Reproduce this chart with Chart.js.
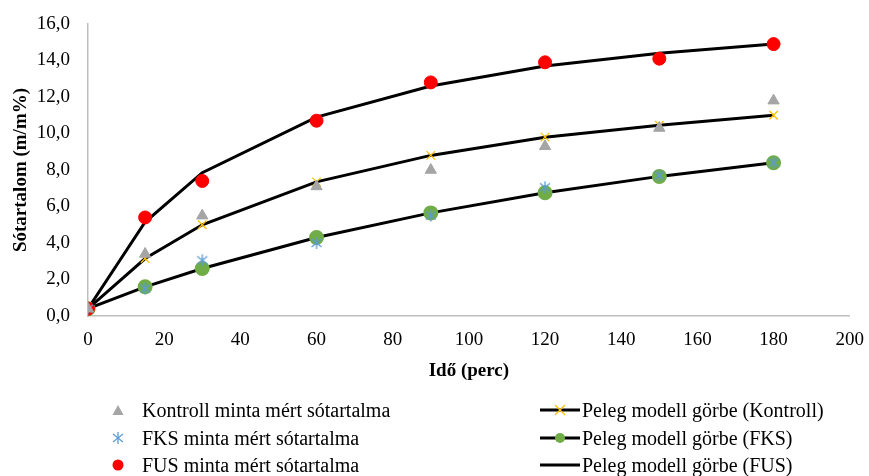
<!DOCTYPE html>
<html>
<head>
<meta charset="utf-8">
<script src="https://cdn.jsdelivr.net/npm/chart.js@4/dist/chart.umd.min.js"></script>
<style>
  body { margin: 0; background: #fff; }
  #wrap { position: relative; width: 869px; height: 476px; }
  #legend { position: absolute; left: 0; top: 0; width: 869px; height: 476px; pointer-events: none;
    font-family: "Liberation Serif", "Times New Roman", serif; font-size: 20px; color: #000; }
  .item { position: absolute; display: flex; align-items: center; white-space: nowrap; height: 24px; }
</style>
</head>
<body>
<div id="wrap">
  <canvas id="c" width="869" height="476"></canvas>
  <div id="legend"></div>
</div>
<script>
const times = [0, 15, 30, 60, 90, 120, 150, 180];
const kontrollMert = [0.4, 3.4, 5.5, 7.1, 8.0, 9.3, 10.3, 11.8];
const fksMert = [0.4, 1.5, 3.05, 4.0, 5.5, 7.05, 7.7, 8.4];
const fusMert = [0.4, 5.4, 7.4, 10.7, 12.8, 13.9, 14.1, 14.9];
const kontrollModell = [0.4, 3.15, 5.0, 7.35, 8.8, 9.8, 10.45, 11.0];
const fksModell = [0.4, 1.6, 2.6, 4.3, 5.65, 6.75, 7.65, 8.4];
const fusModell = [0.4, 5.15, 7.85, 10.9, 12.6, 13.7, 14.4, 14.9];
const xTicks = [0, 20, 40, 60, 80, 100, 120, 140, 160, 180, 200];
const yTicks = [0, 2, 4, 6, 8, 10, 12, 14, 16];

const labels = [
  'Kontroll minta mért sótartalma', 'FKS minta mért sótartalma', 'FUS minta mért sótartalma',
  'Peleg modell görbe (Kontroll)', 'Peleg modell görbe (FKS)', 'Peleg modell görbe (FUS)'
];

function pts(arr) { return times.map((t, i) => ({ x: t, y: arr[i] })); }

// asterisk marker (vertical line + X), like the Excel one
function asterisk(color) {
  const c = document.createElement('canvas');
  c.width = 14; c.height = 14;
  const g = c.getContext('2d');
  g.strokeStyle = color; g.lineWidth = 1.3;
  g.beginPath();
  g.moveTo(7, 1); g.lineTo(7, 13);
  g.moveTo(2, 3); g.lineTo(12, 11);
  g.moveTo(12, 3); g.lineTo(2, 11);
  g.stroke();
  return c;
}

const font = { family: '"Liberation Serif", "Times New Roman", serif', size: 19 };
const boldFont = { family: '"Liberation Serif", "Times New Roman", serif', size: 19, weight: 'bold' };

new Chart(document.getElementById('c'), {
  type: 'scatter',
  data: {
    datasets: [
      { label: labels[0], data: pts(kontrollMert), pointStyle: 'triangle', pointRadius: 6.5,
        backgroundColor: '#a5a5a5', borderColor: '#a5a5a5', showLine: false },
      { label: labels[1], data: pts(fksMert), pointStyle: asterisk('#5b9bd5'), pointRadius: 7,
        backgroundColor: '#5b9bd5', borderColor: '#5b9bd5', showLine: false },
      { label: labels[2], data: pts(fusMert), pointStyle: 'circle', pointRadius: 6.5,
        backgroundColor: '#ff0000', borderColor: '#ff0000', showLine: false },
      { label: labels[3], data: pts(kontrollModell), showLine: true, borderColor: '#000', borderWidth: 3,
        pointStyle: 'crossRot', pointRadius: 6, pointBorderColor: '#ffc000', pointBorderWidth: 1.3,
        pointBackgroundColor: '#ffc000', tension: 0 },
      { label: labels[4], data: pts(fksModell), showLine: true, borderColor: '#000', borderWidth: 3,
        pointStyle: 'circle', pointRadius: 6, pointBackgroundColor: '#70ad47', pointBorderColor: '#70ad47',
        tension: 0 },
      { label: labels[5], data: pts(fusModell), showLine: true, borderColor: '#000', borderWidth: 3,
        pointRadius: 0, tension: 0 }
    ]
  },
  options: {
    responsive: false,
    animation: false,
    layout: { padding: { left: 0, top: 24, right: 0, bottom: 90 } },
    plugins: { legend: { display: false }, tooltip: { enabled: false } },
    scales: {
      x: {
        type: 'linear', min: 0, max: 200,
        afterBuildTicks: s => { s.ticks = xTicks.map(v => ({ value: v })); },
        grid: { display: false },
        border: { display: true, color: '#bfbfbf', width: 1.5 },
        ticks: { font: font, color: '#000', padding: 5, maxRotation: 0 },
        title: { display: true, text: 'Idő (perc)', font: boldFont, color: '#000', padding: { top: 4, bottom: 4 } },
        afterFit: s => { s.height = 70; }
      },
      y: {
        type: 'linear', min: 0, max: 16,
        afterBuildTicks: s => { s.ticks = yTicks.map(v => ({ value: v })); },
        grid: { display: false },
        border: { display: true, color: '#bfbfbf', width: 1.5 },
        ticks: { font: font, color: '#000', padding: 10, callback: v => v.toFixed(1).replace('.', ',') },
        title: { display: true, text: 'Sótartalom (m/m%)', font: boldFont, color: '#000', padding: { top: 10, bottom: 0 } },
        afterFit: s => { s.width = 88; }
      }
    }
  }
});

// legend in two columns, built from the same labels
const legend = document.getElementById('legend');
const markers = [
  '<svg width="20" height="14"><polygon points="10,2 15.5,12 4.5,12" fill="#a5a5a5"/></svg>',
  '<svg width="20" height="14"><g stroke="#5b9bd5" stroke-width="1.3"><line x1="10" y1="1" x2="10" y2="13"/><line x1="5" y1="3" x2="15" y2="11"/><line x1="15" y1="3" x2="5" y2="11"/></g></svg>',
  '<svg width="20" height="14"><circle cx="10" cy="7" r="5.5" fill="#ff0000"/></svg>',
  '<svg width="40" height="14"><line x1="0" y1="7" x2="40" y2="7" stroke="#000" stroke-width="3"/><g stroke="#ffc000" stroke-width="1.3"><line x1="15" y1="2" x2="25" y2="12"/><line x1="25" y1="2" x2="15" y2="12"/></g></svg>',
  '<svg width="40" height="14"><line x1="0" y1="7" x2="40" y2="7" stroke="#000" stroke-width="3"/><circle cx="20" cy="7" r="5" fill="#70ad47"/></svg>',
  '<svg width="40" height="14"><line x1="0" y1="7" x2="40" y2="7" stroke="#000" stroke-width="3"/></svg>'
];
const rowsY = [410, 438, 465];
labels.forEach((l, i) => {
  const d = document.createElement('div');
  d.className = 'item';
  const col = i < 3 ? 0 : 1;
  d.style.left = (col === 0 ? 108 : 540) + 'px';
  d.style.top = (rowsY[i % 3] - 12) + 'px';
  d.innerHTML = markers[i] + '<span style="margin-left:' + (col === 0 ? 14 : 2) + 'px">' + l + '</span>';
  legend.appendChild(d);
});
</script>
</body>
</html>
